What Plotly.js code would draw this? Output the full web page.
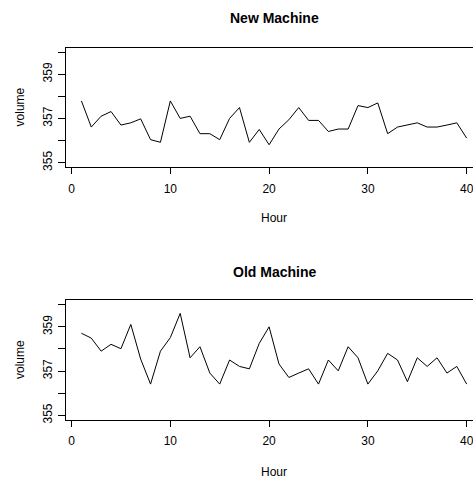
<!DOCTYPE html>
<html>
<head>
<meta charset="utf-8">
<script src="https://cdn.plot.ly/plotly-3.0.1.min.js"></script>
<style>html,body{margin:0;padding:0;background:#fff;overflow:hidden;}</style>
</head>
<body>
<div id="chart" style="width:473px;height:482px;"></div>
<script>
const hours = Array.from({length: 40}, (_, i) => i + 1);
const newMachine = [357.79, 356.61, 357.10, 357.31, 356.70, 356.80, 356.98, 356.04, 355.92, 357.79,
  357.00, 357.10, 356.31, 356.31, 356.04, 357.00, 357.49, 355.92, 356.50, 355.81,
  356.52, 356.94, 357.49, 356.91, 356.91, 356.41, 356.52, 356.52, 357.58, 357.49,
  357.70, 356.31, 356.61, 356.70, 356.80, 356.61, 356.61, 356.70, 356.80, 356.11];
const oldMachine = [358.71, 358.49, 357.90, 358.21, 358.01, 359.11, 357.54, 356.41, 357.90, 358.51,
  359.61, 357.60, 358.10, 356.91, 356.41, 357.50, 357.21, 357.10, 358.25, 359.00,
  357.32, 356.71, 356.91, 357.10, 356.41, 357.50, 357.01, 358.10, 357.60, 356.41,
  357.01, 357.80, 357.50, 356.52, 357.60, 357.21, 357.60, 356.91, 357.21, 356.41];
const titles = ["New Machine", "Old Machine"];
const xTickVals = [0, 10, 20, 30, 40];
const yTickVals = [355, 356, 357, 358, 359, 360];
const yTickText = ["355", "", "357", "", "359", ""];
const xLabel = "Hour";
const yLabel = "volume";

const H = 482;
const FONT = "Liberation Sans, Arial, Helvetica, sans-serif";
const py = p => 1 - p / H;

const lineStyle = {color: "#000", width: 1};
const traces = [
  {x: hours, y: newMachine, type: "scatter", mode: "lines", line: lineStyle, xaxis: "x", yaxis: "y", hoverinfo: "skip"},
  {x: hours, y: oldMachine, type: "scatter", mode: "lines", line: lineStyle, xaxis: "x2", yaxis: "y2", hoverinfo: "skip"}
];

function xax(anchor) {
  return {
    anchor: anchor, domain: [0, 1], range: [-0.56, 40.64],
    tickvals: xTickVals, ticks: "outside", ticklen: 6, tickwidth: 1, tickcolor: "#000",
    showline: true, linecolor: "#000", linewidth: 1, mirror: true,
    showgrid: false, zeroline: false, fixedrange: true, ticklabeloverflow: "allow",
    tickfont: {family: FONT, size: 12, color: "#000"}, ticklabelstandoff: 4
  };
}
function yax(anchor, dom) {
  return {
    anchor: anchor, domain: dom, range: [354.8, 360.2],
    tickvals: yTickVals, ticktext: yTickText, tickangle: -90,
    ticks: "outside", ticklen: 7, tickwidth: 1, tickcolor: "#000",
    showline: true, linecolor: "#000", linewidth: 1, mirror: false,
    showgrid: false, zeroline: false, fixedrange: true, ticklabeloverflow: "allow",
    tickfont: {family: FONT, size: 12, color: "#000"}, ticklabelstandoff: 1
  };
}

const cxPaper = (274 - 66) / (473 - 66);
const ann = [];
const titleY = [18, 271.5];
const hourY = [218, 471.5];
const volY = [107.4, 360];
for (let k = 0; k < 2; k++) {
  ann.push({text: "<b>" + titles[k] + "</b>", xref: "paper", yref: "paper", x: cxPaper, y: py(titleY[k]),
    xanchor: "center", yanchor: "middle", showarrow: false, font: {family: FONT, size: 14, color: "#000"}});
  ann.push({text: xLabel, xref: "paper", yref: "paper", x: cxPaper, y: py(hourY[k]),
    xanchor: "center", yanchor: "middle", showarrow: false, font: {family: FONT, size: 12, color: "#000"}});
  ann.push({text: yLabel, xref: "paper", yref: "paper", x: (20 - 66) / 407, y: py(volY[k]), textangle: -90,
    xanchor: "center", yanchor: "middle", showarrow: false, font: {family: FONT, size: 12, color: "#000"}});
}

const layout = {
  width: 473, height: 482,
  margin: {l: 66, r: 0, t: 0, b: 0},
  paper_bgcolor: "#fff", plot_bgcolor: "#fff",
  showlegend: false,
  xaxis: xax("y"),
  yaxis: yax("x", [py(167.1), py(47.6)]),
  xaxis2: xax("y2"),
  yaxis2: yax("x2", [py(419.7), py(300.3)]),
  annotations: ann
};

Plotly.newPlot("chart", traces, layout, {staticPlot: true, displayModeBar: false});
</script>
</body>
</html>
